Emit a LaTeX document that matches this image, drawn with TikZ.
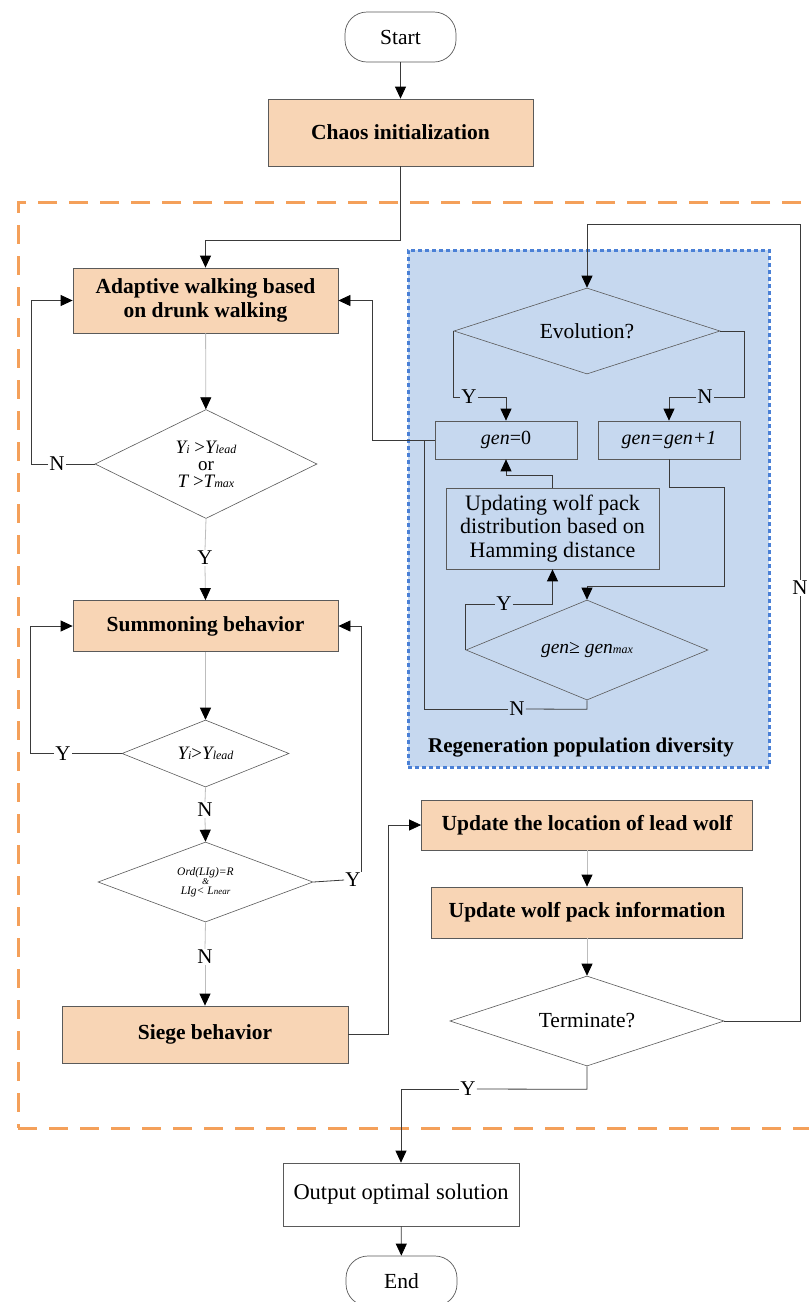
\documentclass[tikz,border=0pt]{standalone}
\usepackage{fontspec}
\setmainfont{Liberation Serif}
\usetikzlibrary{shapes.geometric,arrows.meta}
\definecolor{peach}{HTML}{F8D5B5}
\definecolor{bluefill}{HTML}{C6D8EF}
\definecolor{blueline}{HTML}{4A80D6}
\definecolor{orangeline}{HTML}{F4A05A}
\definecolor{linedark}{HTML}{3A3A3A}
\definecolor{linelight}{HTML}{BDBDBD}
\definecolor{boxline}{HTML}{5A5A5A}
\newcommand\lsub[1]{{\fontsize{12}{12}\selectfont\itshape #1}}
\begin{document}
\begin{tikzpicture}[x=1pt,y=-1pt,
  every node/.style={font=\fontsize{21.5}{24}\selectfont},
  pbox/.style={rectangle, draw=boxline, fill=peach, line width=0.8pt, inner sep=2pt, align=center, font=\fontsize{21.5}{24}\selectfont\bfseries},
  wbox/.style={rectangle, draw=boxline, line width=0.7pt, inner sep=2pt, align=center},
  terminal/.style={rectangle, rounded corners=22pt, draw=boxline, line width=0.7pt, fill=white, minimum width=111pt, minimum height=50pt},
  dia/.style={diamond, draw=boxline, line width=0.6pt, inner sep=0pt, align=center},
  conn/.style={draw=linedark, line width=0.8pt},
  lconn/.style={draw=linelight, line width=0.8pt},
  arr/.style={-{Triangle[width=11pt,length=12pt,color=black]}},
  lbl/.style={inner sep=1pt, font=\fontsize{21}{24}\selectfont},
]
\useasboundingbox (0,0) rectangle (809,1302);
\fill[white] (0,0) rectangle (809,1302);

% regions
\node[draw=orangeline, line width=3pt, dash pattern=on 19pt off 12pt, minimum width=812pt, minimum height=926pt, inner sep=0pt] (outer) at (424,665) {};
\node[fill=bluefill, draw=blueline, line width=3pt, dash pattern=on 4pt off 3pt, minimum width=361pt, minimum height=517pt, inner sep=0pt] (regen) at (588.5,508.5) {};
\node[font=\fontsize{21}{24}\selectfont\bfseries] (regenlbl) at (581,748) {Regeneration population diversity};

% main column
\node[terminal] (start) at (400.5,37) {Start};
\node[pbox, minimum width=265pt, minimum height=67pt] (chaos) at (400.5,132.5) {Chaos initialization};
\node[pbox, minimum width=265pt, minimum height=65pt] (adapt) at (205.5,300.5) {Adaptive walking based\\on drunk walking};
\node[dia, fill=white, minimum width=222pt, minimum height=109pt, aspect=2.04, font=\fontsize{19}{17}\selectfont] (d1) at (206,464) {{\itshape Y}\lsub{i} >{\itshape Y}\lsub{lead}\\or\\{\itshape T} >{\itshape T}\lsub{max}};
\node[pbox, minimum width=265pt, minimum height=51pt] (summ) at (205.5,626) {Summoning behavior};
\node[dia, fill=white, minimum width=167pt, minimum height=67pt, aspect=2.5, font=\fontsize{19}{20}\selectfont] (d2) at (205.5,753.5) {{\itshape Y}\lsub{i}>{\itshape Y}\lsub{lead}};
\node[dia, fill=white, minimum width=215pt, minimum height=80pt, aspect=2.7, font=\fontsize{11.5}{9.5}\selectfont\itshape] (d3) at (205.5,882) {Ord(LIg)=R\\{\fontsize{9}{9}\selectfont\&}\\LIg< L{\fontsize{9}{9}\selectfont near}};
\node[pbox, minimum width=286pt, minimum height=57pt] (siege) at (205,1034.5) {Siege behavior};
\node[pbox, minimum width=331pt, minimum height=50pt] (upd1) at (587,825) {Update the location of lead wolf};
\node[pbox, minimum width=311pt, minimum height=51pt] (upd2) at (587,912.5) {Update wolf pack information};
\node[dia, fill=white, minimum width=274pt, minimum height=90pt, aspect=3.04] (termd) at (587,1021) {Terminate?};
\node[wbox, fill=white, minimum width=236pt, minimum height=63pt, font=\fontsize{22.5}{24}\selectfont] (out) at (401,1194.5) {Output optimal solution};
\node[terminal] (end) at (401.5,1281) {End};

% regeneration block
\node[dia, minimum width=266pt, minimum height=86pt, aspect=3.1] (evo) at (587,331) {Evolution?};
\node[wbox, minimum width=142pt, minimum height=38pt, font=\fontsize{20}{24}\selectfont] (gen0) at (506,440) {\textit{gen}=0};
\node[wbox, minimum width=142pt, minimum height=38pt, font=\fontsize{20}{24}\selectfont] (genp) at (669,440) {\textit{gen=gen+1}};
\node[wbox, minimum width=213pt, minimum height=81pt, font=\fontsize{22}{23.5}\selectfont] (upd3) at (552.5,528.5) {Updating wolf pack\\distribution based on\\Hamming distance};
\node[dia, minimum width=242pt, minimum height=100pt, aspect=2.42, font=\fontsize{19.5}{20}\selectfont\itshape] (gmax) at (587,650) {gen≥ gen\lsub{max}};

% labels
\node[lbl] (n1) at (57,464) {N};
\node[lbl] (y1) at (205,558) {Y};
\node[lbl] (y2) at (63,753.5) {Y};
\node[lbl] (n2) at (205,810) {N};
\node[lbl] (y3) at (353,880) {Y};
\node[lbl] (n3) at (205,957) {N};
\node[lbl] (n4) at (800,588) {N};
\node[lbl] (y4) at (468,1089) {Y};
\node[lbl] (y5) at (469,397) {Y};
\node[lbl] (n5) at (705,397) {N};
\node[lbl] (y6) at (504,604) {Y};
\node[lbl] (n6) at (517,709) {N};
\coordinate (topturn) at (800,224);
\coordinate (join) at (424,440);

% connectors
\draw[conn,arr] (start) -- (chaos);
\draw[conn,arr] (chaos.south) -- ++(0,74) -| (adapt.north);
\draw[lconn,arr] (adapt) -- (d1);
\draw[conn] (d1.west) -- (n1.east);
\draw[conn,arr] (n1.west) -- ++(-17,0) |- (adapt.west);
\draw[lconn] (d1.south) -- (y1.north);
\draw[lconn,arr] (y1.south) -- (summ.north);
\draw[lconn,arr] (summ) -- (d2);
\draw[conn] (d2.west) -- (y2.east);
\draw[conn,arr] (y2.west) -- ++(-24,0) |- (summ.west);
\draw[lconn] (d2.south) -- (n2.north);
\draw[lconn,arr] (n2.south) -- (d3.north);
\draw[conn] (d3.east) -- (y3.west);
\draw[conn,arr] (y3.north east) |- (summ.east);
\draw[lconn] (d3.south) -- (n3.north);
\draw[lconn,arr] (n3.south) -- (siege.north);
\draw[conn,arr] (siege.east) -- ++(40,0) |- (upd1.west);
\draw[lconn,arr] (upd1) -- (upd2);
\draw[lconn,arr] (upd2) -- (termd);
\draw[conn] (termd.east) -| (n4.south);
\draw[conn,arr] (n4.north) -- (topturn) -| (evo.north);
\draw[conn] (termd.south) -- ++(0,23) -- (y4.east);
\draw[conn,arr] (y4.west) -| (out.north);
\draw[conn,arr] (out) -- (end);

\draw[conn] (evo.west) |- (y5.west);
\draw[conn,arr] (y5.east) -| (gen0.north);
\draw[conn] (evo.east) -- ++(24,0) |- (n5.east);
\draw[conn,arr] (n5.west) -| (genp.north);
\draw[conn,arr] (genp.south) -- ++(0,28) -- ++(55,0) -- ++(0,99) -| (gmax.north);
\draw[conn,arr] (upd3.north) -- ++(0,-12) -| (gen0.south);
\draw[conn] (gmax.west) |- (y6.west);
\draw[conn,arr] (y6.east) -| (upd3.south);
\draw[conn] (gmax.south) -- ++(0,9) -- (n6.east);
\draw[conn] (n6.west) -| (join);
\draw[conn,arr] (gen0.west) -- ++(-62,0) |- (adapt.east);
\end{tikzpicture}
\end{document}
